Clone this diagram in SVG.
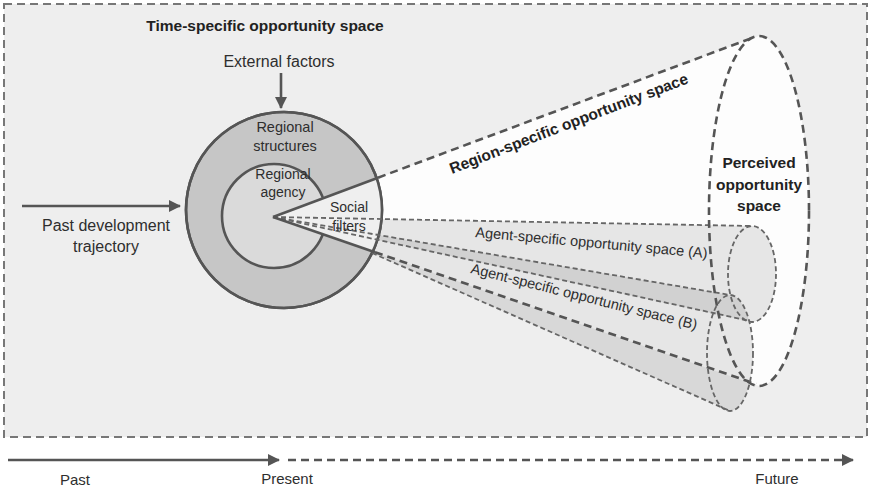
<svg xmlns="http://www.w3.org/2000/svg" width="873" height="489" viewBox="0 0 873 489">
<style>
text{font-family:"Liberation Sans",Arial,sans-serif;fill:#2e2e2e}
.b{font-weight:bold;fill:#222}
.thick{fill:none;stroke:#555;stroke-width:2.6;stroke-dasharray:8 5}
.thin{fill:none;stroke:#666;stroke-width:1.8;stroke-dasharray:5 3}
.solid{fill:none;stroke:#555;stroke-width:2.6}
.arr{stroke:#555;stroke-width:2.6;fill:none}
</style>
<defs>
<marker id="ah" markerUnits="userSpaceOnUse" markerWidth="12" markerHeight="12" refX="11" refY="6" orient="auto">
<path d="M0,0 L12,6 L0,12 z" fill="#555"/>
</marker>
<clipPath id="oc"><circle cx="284" cy="210" r="98"/></clipPath>
</defs>
<g id="frame">
<rect x="4" y="4" width="863" height="433" fill="#eeeeee" stroke="#777" stroke-width="2" stroke-dasharray="8 5"/>
</g>
<g id="cones">
<path d="M273,217 L759,36 A50,175 0 0 1 759,386 Z" fill="#fdfdfd"/>
<path d="M273,217 L752,226 A24,48 0 0 1 752,322 Z" fill="#000" fill-opacity="0.09"/>
<path d="M273,217 L730,295 A23,58 0 0 1 730,411 L365,250 Z" fill="#000" fill-opacity="0.09"/>
</g>
<g id="regional-structures">
<circle cx="284" cy="210" r="98" fill="#c6c6c6" stroke="#555" stroke-width="2.6"/>
</g>
<g id="regional-agency">
<circle cx="274" cy="216" r="52" fill="#dadada" stroke="#555" stroke-width="2.6"/>
</g>
<g id="social-filters">
<polygon points="273,217 400,169.5 400,260.8" fill="#efefef" clip-path="url(#oc)"/>
<circle cx="284" cy="210" r="98" fill="none" stroke="#555" stroke-width="2.6"/>
</g>
<g id="connectors">
<line class="thin" x1="273" y1="217" x2="752" y2="226"/>
<line class="thin" x1="273" y1="217" x2="750" y2="321"/>
<line class="thin" x1="273" y1="217" x2="730" y2="295"/>
<line class="thin" x1="372" y1="253" x2="730" y2="411"/>
<line class="solid" x1="273" y1="217" x2="378" y2="177.7"/>
<line class="solid" x1="273" y1="217" x2="375" y2="252.2"/>
<line class="thick" x1="378" y1="177.7" x2="752" y2="38"/>
<line class="thick" x1="375" y1="252.2" x2="756" y2="384"/>
<line class="arr" x1="281" y1="73" x2="281" y2="108" marker-end="url(#ah)"/>
<line class="arr" x1="22" y1="206" x2="180" y2="206" marker-end="url(#ah)"/>
<line class="arr" x1="8" y1="460" x2="279" y2="460" marker-end="url(#ah)"/>
<line x1="288" y1="460" x2="853" y2="460" stroke="#555" stroke-width="2.4" stroke-dasharray="8 5" marker-end="url(#ah)"/>
</g>
<g id="perceived-opportunity-space">
<ellipse class="thick" cx="759" cy="211" rx="50" ry="175"/>
</g>
<g id="agent-a">
<ellipse class="thin" cx="752" cy="274" rx="24" ry="48"/>
</g>
<g id="agent-b">
<ellipse class="thin" cx="730" cy="353" rx="23" ry="58"/>
</g>
<g id="labels">
<text class="b" x="265" y="31" font-size="15.5" text-anchor="middle">Time-specific opportunity space</text>
<text x="279" y="67" font-size="16" text-anchor="middle">External factors</text>
<text x="106" y="231" font-size="16" text-anchor="middle">Past development</text>
<text x="106" y="252" font-size="16" text-anchor="middle">trajectory</text>
<text x="285" y="132" font-size="14.5" text-anchor="middle">Regional</text>
<text x="285" y="151" font-size="14.5" text-anchor="middle">structures</text>
<text x="283" y="179" font-size="14" text-anchor="middle">Regional</text>
<text x="283" y="197" font-size="14" text-anchor="middle">agency</text>
<text x="349" y="212" font-size="14" text-anchor="middle">Social</text>
<text x="349" y="231" font-size="14" text-anchor="middle">filters</text>
<text class="b" x="0" y="0" font-size="15.5" transform="translate(452,174) rotate(-21)">Region-specific opportunity space</text>
<text class="b" x="759" y="168" font-size="15.5" text-anchor="middle">Perceived</text>
<text class="b" x="759" y="190" font-size="15.5" text-anchor="middle">opportunity</text>
<text class="b" x="759" y="211" font-size="15.5" text-anchor="middle">space</text>
<text x="0" y="0" font-size="14.5" transform="translate(475,237) rotate(5.2)">Agent-specific opportunity space (A)</text>
<text x="0" y="0" font-size="14.5" transform="translate(470,273) rotate(14.1)">Agent-specific opportunity space (B)</text>
<text x="75" y="485" font-size="15" text-anchor="middle">Past</text>
<text x="287" y="484" font-size="15" text-anchor="middle">Present</text>
<text x="777" y="484" font-size="15" text-anchor="middle">Future</text>
</g>
</svg>
